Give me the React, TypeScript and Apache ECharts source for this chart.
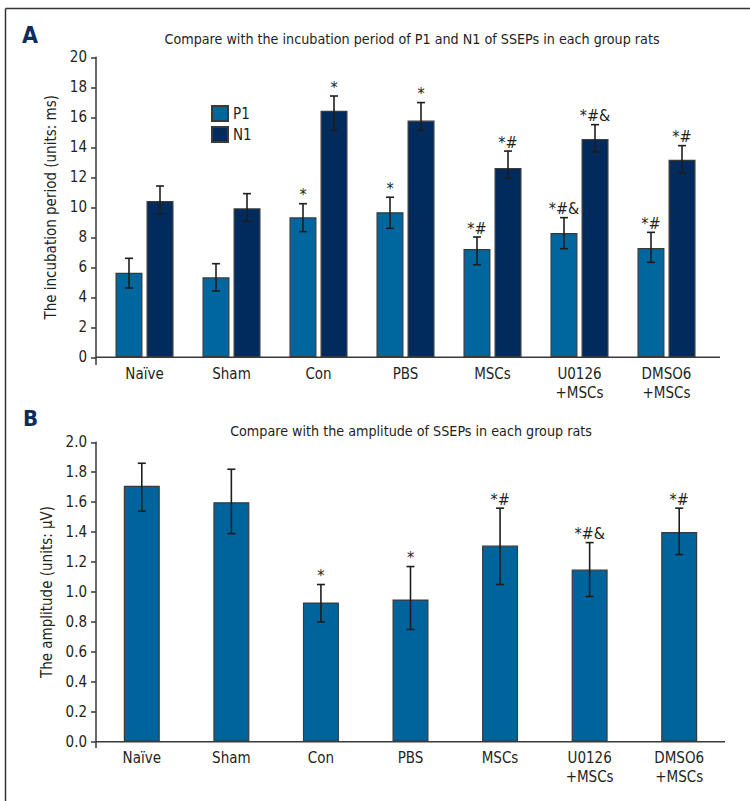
import React, { useEffect, useRef } from "react";
import * as echarts from "echarts";

const categories = ["Naïve", "Sham", "Con", "PBS", "MSCs", "U0126\n+MSCs", "DMSO6\n+MSCs"];

const p1Mean = [5.64, 5.33, 9.33, 9.67, 7.22, 8.29, 7.29];
const p1Upper = [6.6, 6.24, 10.24, 10.67, 8.02, 9.31, 8.33];
const p1Lower = [4.62, 4.42, 8.38, 8.6, 6.17, 7.24, 6.33];
const p1Sig = ["", "", "*", "*", "*#", "*#&", "*#"];

const n1Mean = [10.42, 9.93, 16.44, 15.78, 12.62, 14.55, 13.17];
const n1Upper = [11.42, 10.91, 17.42, 16.98, 13.75, 15.51, 14.11];
const n1Lower = [9.55, 9.07, 15.13, 15.15, 11.93, 13.69, 12.29];
const n1Sig = ["", "", "*", "*", "*#", "*#&", "*#"];

const ampMean = [1.71, 1.6, 0.93, 0.95, 1.31, 1.15, 1.4];
const ampUpper = [1.86, 1.82, 1.05, 1.17, 1.56, 1.33, 1.56];
const ampLower = [1.54, 1.39, 0.8, 0.75, 1.05, 0.97, 1.25];
const ampSig = ["", "", "*", "*", "*#", "*#&", "*#"];

const FONT = "'Liberation Sans Narrow', 'DejaVu Sans Condensed', 'Noto Sans', sans-serif";
const TXT = "#231f20";
const AX = "#3a3a3a";

function errSeries(upper: number[], lower: number[], sig: string[], offset: number, axis: number) {
  return {
    type: "custom",
    xAxisIndex: axis,
    yAxisIndex: axis,
    z: 5,
    silent: true,
    encode: { x: 0, y: [1, 2] },
    data: categories.map((_, i) => [i, upper[i], lower[i]]),
    renderItem: (params: any, api: any) => {
      const i = api.value(0);
      const t = api.coord([i, api.value(1)]);
      const b = api.coord([i, api.value(2)]);
      const x = t[0] + offset;
      const cap = 4;
      const st = { stroke: "#1e1e1e", lineWidth: 1.6 };
      const children: any[] = [
        { type: "line", shape: { x1: x, y1: t[1], x2: x, y2: b[1] }, style: st },
        { type: "line", shape: { x1: x - cap, y1: t[1], x2: x + cap, y2: t[1] }, style: st },
        { type: "line", shape: { x1: x - cap, y1: b[1], x2: x + cap, y2: b[1] }, style: st },
      ];
      const s = sig[params.dataIndex];
      if (s) {
        children.push({
          type: "text",
          style: {
            x: x,
            y: t[1] - 1,
            text: s,
            fill: TXT,
            font: `16px ${FONT}`,
            align: "center",
            verticalAlign: "bottom",
          },
        });
      }
      return { type: "group", children };
    },
  };
}

export default function App() {
  const ref = useRef<HTMLDivElement>(null);
  useEffect(() => {
    if (!ref.current) return;
    const chart = echarts.init(ref.current, null, { renderer: "svg" });
    const barBorder = { borderColor: "#3a3a3a", borderWidth: 1.2 };
    const xAxisCommon = {
      type: "category",
      data: categories,
      axisLine: { show: false },
      axisTick: { show: false },
      axisLabel: { interval: 0, fontSize: 15, color: TXT, fontFamily: FONT, lineHeight: 19, margin: 7 },
    };
    const yAxisCommon = {
      type: "value",
      nameLocation: "middle",
      nameTextStyle: { fontSize: 15, color: TXT, fontFamily: FONT },
      axisLine: { show: true, lineStyle: { color: AX, width: 1.5 } },
      axisTick: { show: true, length: 5, lineStyle: { color: AX, width: 1.5 } },
      splitLine: { show: false },
    };
    chart.setOption({
      animation: false,
      textStyle: { fontFamily: FONT },
      title: [
        {
          text: "Compare with the incubation period of P1 and N1 of SSEPs in each group rats",
          left: 407,
          top: 27,
          textAlign: "center",
          textStyle: { fontSize: 14.2, fontWeight: "normal", color: TXT, fontFamily: FONT },
        },
        {
          text: "Compare with the amplitude of SSEPs in each group rats",
          left: 406,
          top: 419,
          textAlign: "center",
          textStyle: { fontSize: 14.2, fontWeight: "normal", color: TXT, fontFamily: FONT },
        },
      ],
      legend: {
        data: ["P1", "N1"],
        orient: "vertical",
        left: 206,
        top: 100,
        itemWidth: 16,
        itemHeight: 15,
        itemGap: 4,
        icon: "rect",
        textStyle: { fontSize: 15, color: TXT, fontFamily: FONT },
      },
      grid: [
        { left: 101, right: 40, top: 57.3, height: 300 },
        { left: 97, right: 26, top: 442.3, height: 299.4 },
      ],
      xAxis: [
        { ...xAxisCommon, gridIndex: 0 },
        { ...xAxisCommon, gridIndex: 1 },
      ],
      yAxis: [
        {
          ...yAxisCommon,
          gridIndex: 0,
          min: 0,
          max: 20,
          interval: 2,
          offset: 5,
          name: "The incubation period (units: ms)",
          nameGap: 31,
          axisLabel: { fontSize: 15, color: TXT, fontFamily: FONT, margin: 9 },
        },
        {
          ...yAxisCommon,
          gridIndex: 1,
          min: 0,
          max: 2,
          interval: 0.2,
          offset: 1,
          name: "The amplitude (units: μV)",
          nameGap: 35,
          axisLabel: {
            fontSize: 15,
            color: TXT,
            fontFamily: FONT,
            margin: 9,
            formatter: (v: number) => v.toFixed(1),
          },
        },
      ],
      series: [
        {
          name: "P1",
          type: "bar",
          xAxisIndex: 0,
          yAxisIndex: 0,
          data: p1Mean,
          barWidth: 27,
          barGap: "15%",
          itemStyle: { color: "#00669e", ...barBorder },
        },
        {
          name: "N1",
          type: "bar",
          xAxisIndex: 0,
          yAxisIndex: 0,
          data: n1Mean,
          barWidth: 27,
          barGap: "15%",
          itemStyle: { color: "#002b5c", ...barBorder },
        },
        errSeries(p1Upper, p1Lower, p1Sig, -15.5, 0),
        errSeries(n1Upper, n1Lower, n1Sig, 15.5, 0),
        {
          name: "Amplitude",
          type: "bar",
          xAxisIndex: 1,
          yAxisIndex: 1,
          data: ampMean,
          barWidth: 36,
          itemStyle: { color: "#00649c", ...barBorder },
        },
        errSeries(ampUpper, ampLower, ampSig, 0, 1),
      ],
      graphic: [
        { type: "line", shape: { x1: 5.5, y1: 8.5, x2: 750, y2: 8.5 }, style: { stroke: "#333", lineWidth: 1.5 } },
        { type: "line", shape: { x1: 5.5, y1: 8.5, x2: 5.5, y2: 801 }, style: { stroke: "#333", lineWidth: 1.5 } },
        { type: "line", shape: { x1: 96, y1: 357.3, x2: 720, y2: 357.3 }, style: { stroke: AX, lineWidth: 1.5 } },
        { type: "line", shape: { x1: 96, y1: 357, x2: 96, y2: 365 }, style: { stroke: AX, lineWidth: 1.5 } },
        { type: "line", shape: { x1: 96, y1: 741.7, x2: 725, y2: 741.7 }, style: { stroke: AX, lineWidth: 1.5 } },
        { type: "line", shape: { x1: 96, y1: 741.5, x2: 96, y2: 748 }, style: { stroke: AX, lineWidth: 1.5 } },
        {
          type: "text",
          left: 22,
          top: 23,
          style: { text: "A", fill: "#0d2c5c", font: `bold 23px ${FONT}` },
        },
        {
          type: "text",
          left: 23,
          top: 407,
          style: { text: "B", fill: "#0d2c5c", font: `bold 22px ${FONT}` },
        },
      ],
    });
    return () => chart.dispose();
  }, []);
  return (
    <div
      ref={ref}
      style={{ position: "absolute", left: 0, top: 0, width: 750, height: 801, background: "#fff" }}
    />
  );
}
